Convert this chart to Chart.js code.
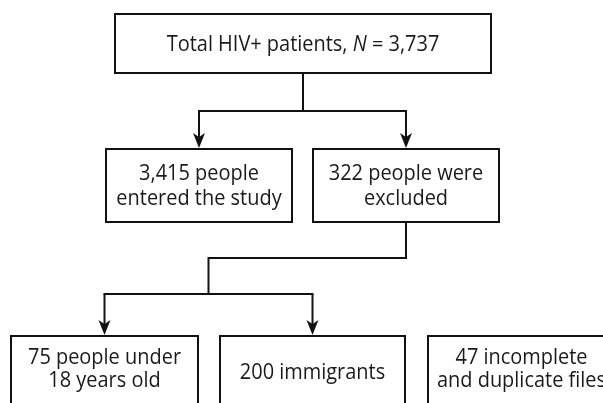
<!DOCTYPE html>
<html>
<head>
<meta charset="utf-8">
<script src="https://cdn.jsdelivr.net/npm/chart.js@4/dist/chart.umd.min.js"></script>
<style>
  html, body { margin: 0; padding: 0; background: #fff; }
  #wrap { width: 603px; height: 403px; }
</style>
</head>
<body>
<div id="wrap"><canvas id="myChart" width="603" height="403"></canvas></div>
<script>
// flow chart content
const nodeLines = [
  ['Total HIV+ patients, _N_ = 3,737'],
  ['3,415 people', 'entered the study'],
  ['322 people were', 'excluded'],
  ['75 people under', '18 years old'],
  ['200 immigrants'],
  ['47 incomplete', 'and duplicate files']
];
const nodeCounts = [3737, 3415, 322, 75, 200, 47];
// parent -> children
const links = [[0, [1, 2]], [2, [3, 4]]];

// box layout in axis units (x: 0..603, y: 0..403 top-down)
const layout = [
  { x0: 115, x1: 491, y0: 14, y1: 73, ty: 45, lh: 25 },
  { x0: 106, x1: 292, y0: 149, y1: 222, ty: 187, lh: 25 },
  { x0: 313, x1: 499, y0: 149, y1: 222, ty: 187, lh: 25 },
  { x0: 11, x1: 198, y0: 336, y1: 420, ty: 370, lh: 23 },
  { x0: 220, x1: 405, y0: 336, y1: 420, ty: 373, lh: 23 },
  { x0: 428, x1: 615, y0: 336, y1: 420, ty: 370, lh: 23 }
];
// y of the horizontal bus under each parent
const busY = [111, 258];
const busDrop = [null, 294];

document.addEventListener('DOMContentLoaded', () => {
  const ctx = document.getElementById('myChart').getContext('2d');

  const FONT = '"Open Sans", sans-serif';
  const SIZE = 21;
  const SQUEEZE = 0.95;

  function drawRich(c, line, cx, cy) {
    // split on _..._ for italic parts
    const parts = line.split('_').map((t, i) => ({ t, it: i % 2 === 1 }));
    let w = 0;
    parts.forEach(p => {
      c.font = (p.it ? 'italic ' : '') + SIZE + 'px ' + FONT;
      p.w = c.measureText(p.t).width;
      w += p.w;
    });
    c.save();
    c.translate(cx, cy);
    c.scale(SQUEEZE, 1);
    let x = -w / 2;
    parts.forEach(p => {
      c.font = (p.it ? 'italic ' : '') + SIZE + 'px ' + FONT;
      c.fillText(p.t, x, 0);
      x += p.w;
    });
    c.restore();
  }

  function arrow(c, x, yTip) {
    c.beginPath();
    c.moveTo(x, yTip);
    c.lineTo(x - 6, yTip - 15);
    c.lineTo(x, yTip - 11);
    c.lineTo(x + 6, yTip - 15);
    c.closePath();
    c.fill();
  }

  const flowPlugin = {
    id: 'flow',
    afterDatasetsDraw(chart) {
      const c = chart.ctx;
      const sx = chart.scales.x, sy = chart.scales.y;
      const px = v => sx.getPixelForValue(v);
      const py = v => sy.getPixelForValue(v);
      c.save();
      c.strokeStyle = '#111';
      c.fillStyle = '#111';
      c.lineWidth = 2;
      c.lineCap = 'butt';

      // boxes
      layout.forEach(b => {
        c.strokeRect(px(b.x0), py(b.y0), px(b.x1) - px(b.x0), py(b.y1) - py(b.y0));
      });

      // connectors
      links.forEach(([p, kids], li) => {
        const pb = layout[p];
        const pcx = (pb.x0 + pb.x1) / 2;
        const kx = kids.map(k => (layout[k].x0 + layout[k].x1) / 2);
        const bx = (kx[0] + kx[kx.length - 1]) / 2;
        c.beginPath();
        c.moveTo(px(pcx), py(pb.y1));
        c.lineTo(px(pcx), py(busY[li]));
        if (busDrop[li] !== null) {
          c.lineTo(px(bx), py(busY[li]));
          c.lineTo(px(bx), py(busDrop[li]));
        }
        c.stroke();
        const yb = busDrop[li] !== null ? busDrop[li] : busY[li];
        c.beginPath();
        c.moveTo(px(kx[0]), py(yb) + 1);
        c.lineTo(px(kx[0]), py(yb));
        c.lineTo(px(kx[kx.length - 1]), py(yb));
        c.lineTo(px(kx[kx.length - 1]), py(yb) + 1);
        c.stroke();
        kids.forEach((k, j) => {
          c.beginPath();
          c.moveTo(px(kx[j]), py(yb));
          c.lineTo(px(kx[j]), py(layout[k].y0) - 6);
          c.stroke();
          arrow(c, px(kx[j]), py(layout[k].y0) - 1);
        });
      });

      // text
      c.fillStyle = '#1a1a1a';
      c.textBaseline = 'middle';
      nodeLines.forEach((lines, i) => {
        const b = layout[i];
        const cx = (b.x0 + b.x1) / 2;
        const top = b.ty - (lines.length - 1) * b.lh / 2;
        lines.forEach((ln, j) => drawRich(c, ln, px(cx), py(top + j * b.lh)));
      });
      c.restore();
    }
  };

  new Chart(ctx, {
    type: 'scatter',
    data: {
      datasets: [{
        label: 'Patients',
        data: nodeCounts.map((n, i) => ({
          x: (layout[i].x0 + layout[i].x1) / 2,
          y: layout[i].ty,
          n
        })),
        pointRadius: 0
      }]
    },
    options: {
      responsive: false,
      animation: false,
      layout: { padding: 0 },
      plugins: {
        legend: { display: false },
        tooltip: { enabled: false }
      },
      scales: {
        x: { type: 'linear', min: 0, max: 603, display: false },
        y: { type: 'linear', min: 0, max: 403, reverse: true, display: false }
      }
    },
    plugins: [flowPlugin]
  });
});
</script>
</body>
</html>
